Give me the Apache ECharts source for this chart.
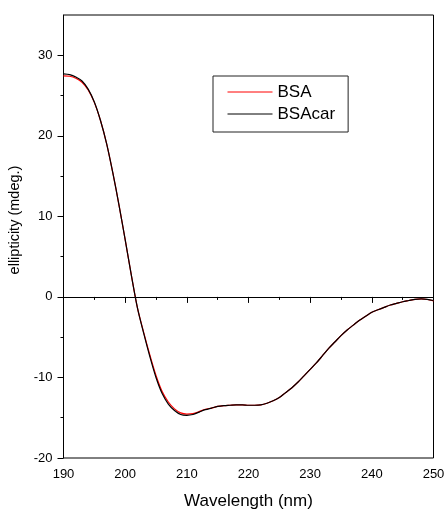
<!DOCTYPE html>
<html>
<head>
<meta charset="utf-8">
<style>
  html, body { margin: 0; padding: 0; background: #fff; }
  #chart { width: 444px; height: 509px; }
</style>
<script src="https://cdn.jsdelivr.net/npm/echarts@6/dist/echarts.min.js"></script>
</head>
<body>
<div id="chart"></div>
<script>
// CD spectra of BSA with and without carnosine (1 nm steps)
const wavelengths = [];
for (let w = 190; w <= 250; w++) wavelengths.push(w);

const bsa = [
  27.45, 27.4, 27.15, 26.65, 25.7, 24.15, 21.9, 19.0, 15.4, 11.4,
  7.1, 2.7, -1.4, -4.4, -7.2, -9.75, -11.75, -13.05, -13.9, -14.4,
  -14.55, -14.5, -14.25, -13.95, -13.8, -13.6, -13.5, -13.45, -13.4, -13.4,
  -13.45, -13.45, -13.4, -13.2, -12.9, -12.5, -11.9, -11.3, -10.6, -9.8,
  -9.0, -8.2, -7.3, -6.4, -5.6, -4.8, -4.1, -3.5, -2.9, -2.4,
  -1.9, -1.6, -1.3, -1.0, -0.8, -0.6, -0.45, -0.3, -0.25, -0.32,
  -0.5
];

const bsaCar = [
  27.7, 27.6, 27.3, 26.8, 25.8, 24.2, 21.9, 19.0, 15.4, 11.4,
  7.1, 2.7, -1.4, -4.5, -7.4, -10.0, -12.0, -13.3, -14.1, -14.6,
  -14.7, -14.6, -14.3, -14.0, -13.8, -13.6, -13.5, -13.45, -13.4, -13.4,
  -13.45, -13.45, -13.4, -13.2, -12.9, -12.5, -11.9, -11.3, -10.6, -9.8,
  -9.0, -8.2, -7.3, -6.4, -5.6, -4.8, -4.1, -3.5, -2.9, -2.4,
  -1.9, -1.6, -1.3, -1.0, -0.8, -0.6, -0.45, -0.3, -0.25, -0.3,
  -0.45
];

const yMajorTicks = [-20, -10, 0, 10, 20, 30];
const yMinorTicks = [-15, -5, 5, 15, 25];

const FONT = 'Arial, "Liberation Sans", sans-serif';

const pairs = (ys) => wavelengths.map((w, i) => [w, ys[i]]);

const chart = echarts.init(document.getElementById('chart'), null, { renderer: 'canvas' });

chart.setOption({
  animation: false,
  backgroundColor: '#fff',
  grid: {
    left: 63.5, right: 10.5, top: 15, bottom: 51,
    outerBoundsMode: 'none',
    show: true, borderColor: '#000', borderWidth: 1, backgroundColor: 'transparent'
  },
  legend: {
    orient: 'vertical',
    left: 213, top: 76,
    padding: [7.5, 13, 9.5, 14],
    itemWidth: 45, itemHeight: 14, itemGap: 5,
    borderColor: '#222', borderWidth: 1,
    itemStyle: { opacity: 0 },
    lineStyle: { width: 1 },
    textStyle: { fontFamily: FONT, fontSize: 17, color: '#000' },
    data: ['BSA', 'BSAcar']
  },
  xAxis: {
    type: 'value',
    min: 190, max: 250, interval: 10,
    name: 'Wavelength (nm)',
    nameLocation: 'middle', nameGap: 35,
    nameTextStyle: { fontFamily: FONT, fontSize: 17, color: '#000' },
    axisLine: { lineStyle: { color: '#000', width: 1 } },
    axisTick: { show: true, inside: false, length: 6, lineStyle: { color: '#000' } },
    minorTick: { show: true, splitNumber: 2, length: 3, lineStyle: { color: '#000' } },
    splitLine: { show: false },
    axisLabel: { fontFamily: FONT, fontSize: 13, color: '#000', margin: 10 }
  },
  yAxis: [
    {
      type: 'value',
      min: -20, max: 35,
      name: 'ellipticity (mdeg.)',
      nameLocation: 'middle', nameGap: 33,
      nameTextStyle: { fontFamily: FONT, fontSize: 14.5, color: '#000', padding: [0, 0, 0, 33] },
      axisLine: { show: true, lineStyle: { color: '#000', width: 1 } },
      axisTick: { show: true, length: 6, customValues: yMajorTicks, lineStyle: { color: '#000' } },
      splitLine: { show: false },
      axisLabel: { fontFamily: FONT, fontSize: 13, color: '#000', margin: 11, customValues: yMajorTicks }
    },
    {
      type: 'value',
      min: -20, max: 35,
      position: 'left',
      axisLine: { show: false },
      axisTick: { show: true, length: 3, customValues: yMinorTicks, lineStyle: { color: '#000' } },
      axisLabel: { show: false, customValues: yMinorTicks },
      splitLine: { show: false }
    }
  ],
  series: [
    {
      name: 'BSA',
      type: 'line',
      data: pairs(bsa),
      smooth: 0.3,
      symbol: 'none',
      lineStyle: { color: '#ff0000', width: 1.2 },
      itemStyle: { color: '#ff0000' },
      markLine: {
        silent: true,
        symbol: 'none',
        label: { show: false },
        lineStyle: { color: '#000', width: 1, type: 'solid' },
        data: [{ yAxis: 0 }]
      },
      z: 2
    },
    {
      name: 'BSAcar',
      type: 'line',
      data: pairs(bsaCar),
      smooth: 0.3,
      symbol: 'none',
      lineStyle: { color: '#000', width: 1.2 },
      itemStyle: { color: '#000' },
      z: 3
    }
  ]
});
</script>
</body>
</html>
